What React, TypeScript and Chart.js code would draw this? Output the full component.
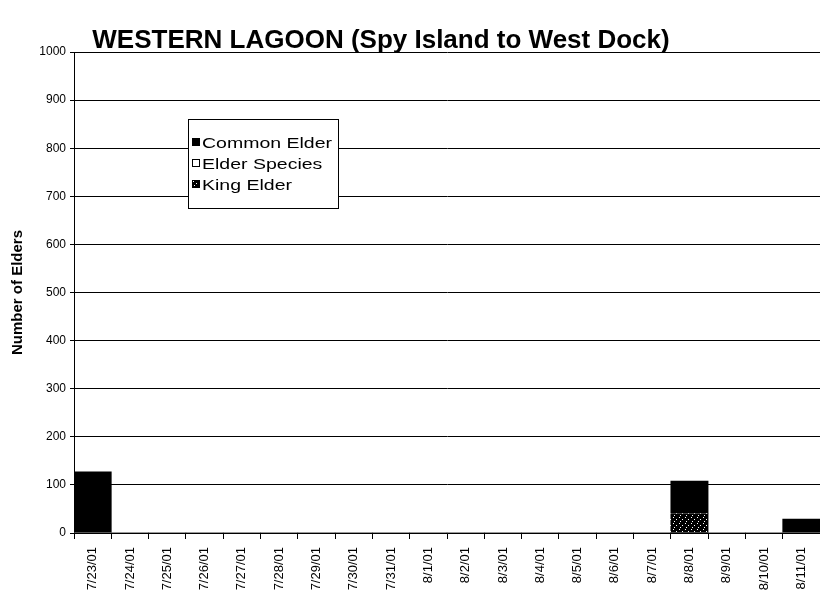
import { useEffect, useRef } from "react";
import { Chart, registerables } from "chart.js";

Chart.register(...registerables);

const chartTitle = "WESTERN LAGOON (Spy Island to West Dock)";
const yAxisTitle = "Number of Elders";
const dates = [
  "7/23/01", "7/24/01", "7/25/01", "7/26/01", "7/27/01", "7/28/01", "7/29/01",
  "7/30/01", "7/31/01", "8/1/01", "8/2/01", "8/3/01", "8/4/01", "8/5/01",
  "8/6/01", "8/7/01", "8/8/01", "8/9/01", "8/10/01", "8/11/01",
];
const commonElder = [127, 0, 0, 0, 0, 0, 0, 0, 0, 0, 0, 0, 0, 0, 0, 0, 68, 0, 0, 29];
const elderSpecies = [0, 0, 0, 0, 0, 0, 0, 0, 0, 0, 0, 0, 0, 0, 0, 0, 0, 0, 0, 0];
const kingElder = [0, 0, 0, 0, 0, 0, 0, 0, 0, 0, 0, 0, 0, 0, 0, 0, 40, 0, 0, 0];
const legendLabels = ["Common Elder", "Elder Species", "King Elder"];
const yMin = 0;
const yMax = 1000;
const yStep = 100;

const FONT = "'Liberation Sans', Arial, Helvetica, sans-serif";

function makeSpeckle(): CanvasPattern | string {
  const c = document.createElement("canvas");
  c.width = 6;
  c.height = 6;
  const g = c.getContext("2d");
  if (!g) return "#000";
  g.fillStyle = "#000";
  g.fillRect(0, 0, 6, 6);
  g.fillStyle = "#fff";
  g.fillRect(1, 1, 1, 1);
  g.fillRect(4, 3, 1, 1);
  g.fillRect(2, 5, 1, 1);
  const p = g.createPattern(c, "repeat");
  return p || "#000";
}

export default function App() {
  const ref = useRef<HTMLCanvasElement | null>(null);

  useEffect(() => {
    document.body.style.margin = "0";
    const canvas = ref.current;
    if (!canvas) return;
    const speckle = makeSpeckle();

    const titlePlugin = {
      id: "customTitle",
      afterDraw(chart: any) {
        const ctx = chart.ctx;
        ctx.save();
        ctx.fillStyle = "#000";
        ctx.font = `bold 26px ${FONT}`;
        ctx.textAlign = "center";
        ctx.textBaseline = "alphabetic";
        ctx.fillText(chartTitle, 381, 48);
        ctx.restore();
      },
    };

    const legendPlugin = {
      id: "customLegend",
      afterDraw(chart: any) {
        const ctx = chart.ctx;
        const x = 188, y = 119, w = 150, h = 89;
        ctx.save();
        ctx.fillStyle = "#fff";
        ctx.fillRect(x, y, w, h);
        ctx.strokeStyle = "#000";
        ctx.lineWidth = 1;
        ctx.strokeRect(x + 0.5, y + 0.5, w, h);
        const rows = [144, 165, 186];
        const fills: any[] = ["#000", "#fff", speckle];
        rows.forEach((ry, i) => {
          ctx.fillStyle = fills[i];
          ctx.fillRect(192, ry - 6, 8, 8);
          ctx.strokeStyle = "#000";
          ctx.strokeRect(192.5, ry - 5.5, 7, 7);
          ctx.save();
          ctx.translate(202, ry);
          ctx.scale(1.3, 1);
          ctx.fillStyle = "#000";
          ctx.font = `15px ${FONT}`;
          ctx.textBaseline = "middle";
          ctx.textAlign = "left";
          ctx.fillText(legendLabels[i], 0, 0);
          ctx.restore();
        });
        ctx.restore();
      },
    };

    const chart = new Chart(canvas, {
      type: "bar",
      data: {
        labels: dates,
        datasets: [
          {
            label: legendLabels[2],
            data: kingElder,
            backgroundColor: speckle as any,
            borderWidth: 0,
            categoryPercentage: 1,
            barPercentage: 1,
          },
          {
            label: legendLabels[1],
            data: elderSpecies,
            backgroundColor: "#fff",
            borderWidth: 0,
            categoryPercentage: 1,
            barPercentage: 1,
          },
          {
            label: legendLabels[0],
            data: commonElder,
            backgroundColor: "#000",
            borderWidth: 0,
            categoryPercentage: 1,
            barPercentage: 1,
          },
        ],
      },
      options: {
        responsive: false,
        animation: false,
        layout: { padding: { top: 52, left: 0, right: 0, bottom: 0 } },
        plugins: {
          legend: { display: false },
          title: { display: false },
          tooltip: { enabled: false },
        },
        scales: {
          x: {
            stacked: true,
            offset: true,
            afterFit: (scale: any) => {
              scale.height = 71;
              scale.paddingLeft = 0;
              scale.paddingRight = 0;
            },
            grid: {
              offset: true,
              drawOnChartArea: false,
              drawTicks: true,
              tickLength: 6,
              color: "#000",
            },
            border: { display: true, color: "#000", width: 1 },
            ticks: {
              autoSkip: false,
              minRotation: 90,
              maxRotation: 90,
              padding: 8,
              color: "#000",
              font: { family: FONT, size: 13 },
            },
          },
          y: {
            stacked: true,
            min: yMin,
            max: yMax,
            afterFit: (scale: any) => {
              scale.width = 74;
            },
            grid: {
              color: "#000",
              lineWidth: 1,
              drawTicks: true,
              tickLength: 4,
            },
            border: { display: true, color: "#000", width: 1 },
            ticks: {
              stepSize: yStep,
              padding: 4,
              color: "#000",
              font: { family: FONT, size: 12 },
              callback: (v: any) => String(v),
            },
            title: {
              display: true,
              text: yAxisTitle,
              color: "#000",
              font: { family: FONT, size: 15, weight: "bold" },
              padding: { top: 9, bottom: 0 },
            },
          },
        },
      },
      plugins: [titlePlugin, legendPlugin],
    });

    return () => chart.destroy();
  }, []);

  return (
    <canvas
      ref={ref}
      width={820}
      height={604}
      style={{ display: "block", width: "820px", height: "604px" }}
    />
  );
}
